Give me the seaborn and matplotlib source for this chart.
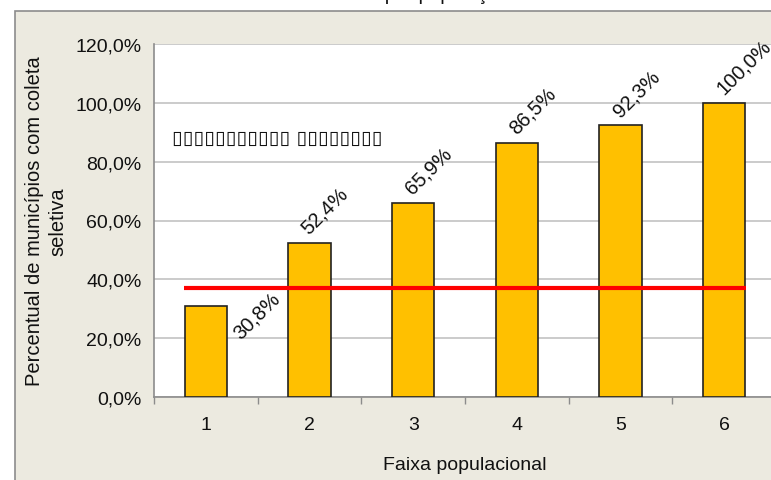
import matplotlib
matplotlib.use("Agg")
import matplotlib.pyplot as plt
import seaborn as sns
import pandas as pd
from matplotlib.patches import Rectangle
from matplotlib.ticker import FuncFormatter, FixedLocator

categories = ["1", "2", "3", "4", "5", "6"]
values = [30.8, 52.4, 65.9, 86.5, 92.3, 100.0]
value_labels = ["30,8%", "52,4%", "65,9%", "86,5%", "92,3%", "100,0%"]
media = 37.0
note_text = "▯▯▯▯▯▯▯▯▯▯▯ ▯▯▯▯▯▯▯▯"
title_text = "Coleta seletiva por população"
xlabel = "Faixa populacional"
ylabel = "Percentual de municípios com coleta\nseletiva"

sns.set_theme(style="white")
plt.rcParams['font.family'] = ['Liberation Sans', 'DejaVu Sans']

fig = plt.figure(figsize=(7.71, 4.81), dpi=100)
fig.patch.set_facecolor("white")
# beige chart area frame
fig.patches.append(Rectangle((15/771, -0.1), 1.2, 1 - 12/481 + 0.1,
                             transform=fig.transFigure, facecolor="#ECEAE0",
                             edgecolor="#8c8c8c", linewidth=1.2, zorder=-10))

ax = fig.add_axes([154/771, (481-398)/481, (776-154)/771, (398-45)/481])
ax.set_facecolor("white")

df = pd.DataFrame({"faixa": categories, "pct": values})
sns.barplot(data=df, x="faixa", y="pct", color="#FFC000", edgecolor="#222222",
            linewidth=1.2, width=0.41, saturation=1, ax=ax, zorder=3)

ax.plot([-0.21, 5.21], [media, media], color="#FF0000", lw=3, zorder=5,
        solid_capstyle="butt")

ax.set_ylim(0, 120)
ax.set_xlim(-0.5, 5.5)
ax.set_yticks(range(0, 121, 20))
ax.yaxis.set_major_formatter(FuncFormatter(lambda v, p: f"{v:.1f}%".replace(".", ",")))
ax.yaxis.grid(True, color="#bdbdbd", linewidth=1.1, zorder=0)
ax.set_axisbelow(True)

ax.xaxis.set_minor_locator(FixedLocator([i - 0.5 for i in range(7)]))
ax.tick_params(axis="x", which="major", length=0, pad=14, labelsize=14, colors="#111111")
ax.tick_params(axis="x", which="minor", length=5, color="#8c8c8c", width=1, direction="out")
ax.tick_params(axis="y", which="major", length=5, color="#8c8c8c", width=1, direction="out",
               labelsize=14, labelcolor="#111111", pad=4)
ax.tick_params(axis="x", which="both", bottom=True)

for s in ["top", "right"]:
    ax.spines[s].set_visible(False)
for s in ["left", "bottom"]:
    ax.spines[s].set_color("#8c8c8c")
    ax.spines[s].set_linewidth(1.2)

ax.set_xlabel(xlabel, fontsize=14, color="#111111", labelpad=16)
ax.set_ylabel(ylabel, fontsize=14.5, color="#111111", labelpad=6, linespacing=1.3)

# value labels rotated 45 degrees
for i, (v, lab) in enumerate(zip(values, value_labels)):
    if i == 0:
        x, y = i + 0.36, v - 12.0
    else:
        x, y = i + 0.02, v + 2.0
    ax.text(x, y, lab, rotation=45, rotation_mode="anchor", ha="left", va="bottom",
            fontsize=14.5, color="#111111", zorder=6)

ax.text(-0.33, 88.4, note_text, fontsize=14, color="#111111",
        family=["DejaVu Sans"], va="center", ha="left", zorder=6)

fig.text(380/771, 1.0 + 0.5/481, title_text, ha="center", va="baseline",
         fontsize=14, color="#111111")

fig.savefig("out.png", dpi=100)
